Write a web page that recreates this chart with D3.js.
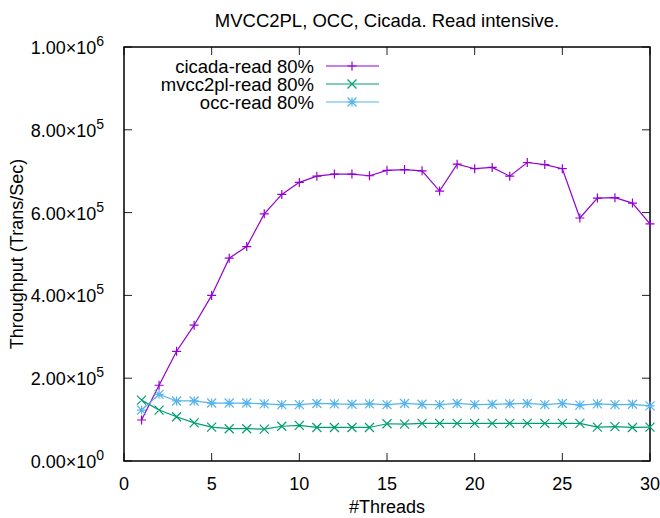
<!DOCTYPE html>
<html>
<head>
<meta charset="utf-8">
<script src="https://cdn.jsdelivr.net/npm/d3@7"></script>
<style>
    body { margin: 0; background: #fff; }
    svg { display: block; font-family: "Liberation Sans", Arial, sans-serif; }
    .frame { fill: none; stroke: #000; stroke-width: 1.5; }
    .tick-mark { stroke: #222; stroke-width: 1; }
    .series { fill: none; stroke-width: 1.2; }
</style>
</head>
<body>
<div id="chart"></div>
<script>
// thread counts 1..30
const threads = [1, 2, 3, 4, 5, 6, 7, 8, 9, 10, 11, 12, 13, 14, 15, 16, 17, 18, 19, 20,
    21, 22, 23, 24, 25, 26, 27, 28, 29, 30];

const cicadaRead = [99000, 183000, 265000, 328000, 400000, 490000, 518000, 597000, 644000, 673000,
    688000, 693000, 693000, 689000, 702000, 704000, 701000, 652000, 717000, 706000,
    709000, 688000, 721000, 716000, 706000, 587000, 635000, 636000, 623000, 573000];

const mvcc2plRead = [147000, 123000, 107000, 92000, 82000, 78000, 78000, 77000, 84000, 86000,
    81000, 81000, 81000, 81000, 90000, 89000, 91000, 91000, 91000, 91000,
    91000, 91000, 91000, 91000, 91000, 91000, 82000, 83000, 81000, 82000];

const occRead = [123000, 161000, 145000, 145000, 140000, 140000, 140000, 138000, 136000, 136000,
    139000, 138000, 137000, 138000, 136000, 139000, 137000, 136000, 139000, 136000,
    137000, 138000, 139000, 136000, 139000, 135000, 138000, 136000, 137000, 133000];

const seriesNames = ['cicada-read 80%', 'mvcc2pl-read 80%', 'occ-read 80%'];
const seriesColors = ['#9400d3', '#009e73', '#56b4e9'];
const seriesMarkers = ['plus', 'cross', 'star'];

const xTicks = [0, 5, 10, 15, 20, 25, 30];
const yTicks = [0, 200000, 400000, 600000, 800000, 1000000];

const width = 660;
const height = 518;
const margin = { top: 47, right: 10, bottom: 57, left: 124 };
const fontSize = 18;

const svg = d3.select('#chart').append('svg')
    .attr('width', width)
    .attr('height', height);

const x = d3.scaleLinear().domain([0, 30]).range([margin.left, width - margin.right]);
const y = d3.scaleLinear().domain([0, 1000000]).range([height - margin.bottom, margin.top]);

// 刻度线（四边都画，向内）
const tickLen = 8;
const ticks = svg.append('g');
xTicks.forEach(t => {
    ticks.append('line').attr('class', 'tick-mark')
        .attr('x1', x(t)).attr('x2', x(t))
        .attr('y1', y(0)).attr('y2', y(0) - tickLen);
    ticks.append('line').attr('class', 'tick-mark')
        .attr('x1', x(t)).attr('x2', x(t))
        .attr('y1', y(1e6)).attr('y2', y(1e6) + tickLen);
});
yTicks.forEach(t => {
    ticks.append('line').attr('class', 'tick-mark')
        .attr('x1', x(0)).attr('x2', x(0) + tickLen)
        .attr('y1', y(t)).attr('y2', y(t));
    ticks.append('line').attr('class', 'tick-mark')
        .attr('x1', x(30)).attr('x2', x(30) - tickLen)
        .attr('y1', y(t)).attr('y2', y(t));
});

// 坐标轴标签
svg.append('g').selectAll('text')
    .data(xTicks)
    .join('text')
    .attr('x', d => x(d))
    .attr('y', y(0) + 29)
    .attr('text-anchor', 'middle')
    .attr('font-size', fontSize)
    .text(d => d);

const yLabel = svg.append('g').selectAll('text')
    .data(yTicks)
    .join('text')
    .attr('x', margin.left - 20)
    .attr('y', d => y(d) + 7)
    .attr('text-anchor', 'end')
    .attr('font-size', fontSize);

function mantissa(v) {
    if (v === 0) return ['0.00', 0];
    const e = Math.floor(Math.log10(v));
    return [(v / Math.pow(10, e)).toFixed(2), e];
}

yLabel.each(function (d) {
    const [m, e] = mantissa(d);
    const t = d3.select(this);
    t.append('tspan').text(m + '×10');
    t.append('tspan').attr('dy', -8).attr('font-size', 14).text(e);
});

// 边框
svg.append('rect').attr('class', 'frame')
    .attr('x', x(0)).attr('y', y(1e6))
    .attr('width', x(30) - x(0))
    .attr('height', y(0) - y(1e6));

svg.append('text')
    .attr('x', (x(0) + x(30)) / 2)
    .attr('y', 27)
    .attr('text-anchor', 'middle')
    .attr('font-size', 18.5)
    .text('MVCC2PL, OCC, Cicada. Read intensive.');

svg.append('text')
    .attr('x', (x(0) + x(30)) / 2)
    .attr('y', 513)
    .attr('text-anchor', 'middle')
    .attr('font-size', fontSize)
    .text('#Threads');

svg.append('text')
    .attr('transform', `translate(23,${(y(0) + y(1e6)) / 2}) rotate(-90)`)
    .attr('text-anchor', 'middle')
    .attr('font-size', fontSize)
    .text('Throughput (Trans/Sec)');

// 点标记
function markerPath(type, cx, cy) {
    const r = 4.5;
    if (type === 'plus') {
        return `M${cx - r},${cy}H${cx + r}M${cx},${cy - r}V${cy + r}`;
    }
    if (type === 'cross') {
        return `M${cx - r},${cy - r}L${cx + r},${cy + r}M${cx - r},${cy + r}L${cx + r},${cy - r}`;
    }
    return `M${cx - r},${cy}H${cx + r}M${cx},${cy - r}V${cy + r}` +
        `M${cx - r},${cy - r}L${cx + r},${cy + r}M${cx - r},${cy + r}L${cx + r},${cy - r}`;
}

const allSeries = [cicadaRead, mvcc2plRead, occRead];
const line = d3.line().x(d => x(d[0])).y(d => y(d[1]));

// 按 gnuplot 的顺序：后画的在上面
allSeries.forEach((vals, i) => {
    const pts = threads.map((t, j) => [t, vals[j]]);
    const g = svg.append('g');
    g.append('path')
        .attr('class', 'series')
        .attr('stroke', seriesColors[i])
        .attr('d', line(pts));
    g.append('path')
        .attr('fill', 'none')
        .attr('stroke', seriesColors[i])
        .attr('stroke-width', 1.2)
        .attr('d', pts.map(p => markerPath(seriesMarkers[i], x(p[0]), y(p[1]))).join(''));
});

// 图例
const legend = svg.append('g');
seriesNames.forEach((name, i) => {
    const ly = 66 + i * 18;
    legend.append('text')
        .attr('x', 314)
        .attr('y', ly + 6.5)
        .attr('text-anchor', 'end')
        .attr('font-size', 18.5)
        .text(name);
    legend.append('line')
        .attr('x1', 326).attr('x2', 379)
        .attr('y1', ly).attr('y2', ly)
        .attr('stroke', seriesColors[i])
        .attr('stroke-width', 1.2);
    legend.append('path')
        .attr('fill', 'none')
        .attr('stroke', seriesColors[i])
        .attr('stroke-width', 1.2)
        .attr('d', markerPath(seriesMarkers[i], 352, ly));
});
</script>
</body>
</html>
